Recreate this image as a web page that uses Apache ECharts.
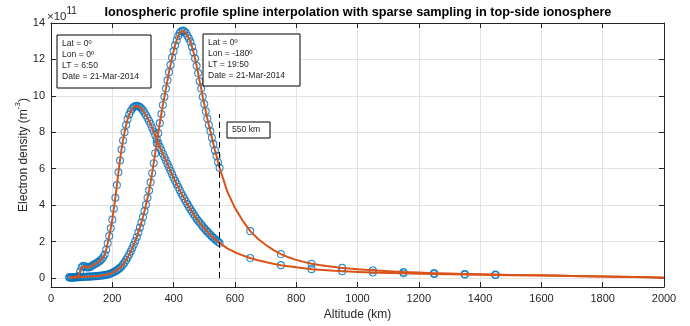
<!DOCTYPE html>
<html><head><meta charset="utf-8">
<script src="https://cdn.jsdelivr.net/npm/echarts@6/dist/echarts.min.js"></script>
<style>html,body{margin:0;padding:0;background:#fff}#c{width:690px;height:326px}</style>
</head><body><div id="c"></div>
<script>
// ---- data (electron density in units of 1e11 m^-3) ----
const titleText = 'Ionospheric profile spline interpolation with sparse sampling in top-side ionosphere';
const denseStart = 60, denseStep = 5;   // dense sampling 60..550 km every 5 km
const neA = [ // Lat 0, Lon 0, LT 6:50
  0.03,0.03,0.03,0.03,0.04,0.05,0.12,0.35,0.58,
  0.66,0.64,0.59,0.57,0.59,0.63,0.68,0.73,0.78,0.83,
  0.88,0.94,1.02,1.12,1.28,1.55,1.9,2.3,2.72,3.2,
  3.8,4.4,5.1,5.8,6.45,7.05,7.55,8.0,8.4,8.72,
  8.97,9.15,9.29,9.38,9.44,9.45,9.43,9.38,9.3,9.2,
  9.07,8.93,8.78,8.62,8.45,8.25,8.05,7.84,7.62,7.4,
  7.2,7.01,6.82,6.63,6.45,6.26,6.07,5.88,5.69,5.5,
  5.33,5.16,4.99,4.82,4.65,4.5,4.35,4.2,4.05,3.9,
  3.77,3.64,3.51,3.38,3.25,3.14,3.04,2.93,2.82,2.72,
  2.63,2.54,2.45,2.36,2.28,2.2,2.12,2.05,1.98,1.91
];
const neB = [ // Lat 0, Lon -180, LT 19:50
  0.02,0.02,0.02,0.02,0.03,0.03,0.04,0.04,0.05,
  0.05,0.06,0.06,0.07,0.07,0.08,0.08,0.09,0.09,0.1,
  0.11,0.12,0.13,0.14,0.15,0.17,0.19,0.21,0.24,0.28,
  0.32,0.37,0.42,0.48,0.55,0.63,0.73,0.85,0.98,1.12,
  1.28,1.45,1.63,1.82,2.03,2.25,2.5,2.76,3.04,3.34,
  3.67,4.02,4.4,4.8,5.25,5.75,6.3,6.85,7.4,7.95,
  8.5,9.0,9.5,9.95,10.4,10.85,11.3,11.7,12.1,12.45,
  12.78,13.05,13.28,13.45,13.55,13.58,13.55,13.45,13.3,13.15,
  12.95,12.7,12.4,12.05,11.65,11.25,10.8,10.4,9.95,9.55,
  9.15,8.75,8.4,8.05,7.7,7.35,7.0,6.7,6.35,6.05
];
// sparse top-side samples (circles)
const sparseAlt = [650,750,850,950,1050,1150,1250,1350,1450];
const sparseA = [1.09,0.7,0.48,0.37,0.3,0.25,0.21,0.18,0.16];
const sparseB = [2.57,1.31,0.78,0.55,0.42,0.32,0.26,0.21,0.18];
// spline curve above 550 km
const curveAlt = [575,600,625,650,675,700,725,750,775,800,825,850,875,900,925,950,975,1000,
  1050,1100,1150,1200,1250,1300,1350,1400,1450,1500,1550,1600,1650,1700,1750,1800,1850,1900,1950,2000];
const curveA = [1.62,1.41,1.24,1.09,0.97,0.87,0.78,0.7,0.64,0.58,0.53,0.48,0.45,0.42,0.39,0.37,0.35,0.33,
  0.3,0.27,0.25,0.23,0.21,0.195,0.18,0.17,0.16,0.15,0.14,0.13,0.12,0.105,0.09,0.075,0.06,0.045,0.03,0.01];
const curveB = [4.75,3.85,3.15,2.57,2.15,1.82,1.54,1.31,1.13,0.99,0.88,0.78,0.71,0.65,0.6,0.55,0.51,0.48,
  0.42,0.37,0.32,0.29,0.26,0.235,0.21,0.195,0.18,0.165,0.15,0.14,0.125,0.11,0.095,0.08,0.065,0.05,0.03,0.01];
const yTicks = [0,2,4,6,8,10,12,14];
const cutAlt = 550, cutTop = 9;
const boxA = ['Lat = 0º','Lon = 0º','LT = 6:50','Date = 21-Mar-2014'];
const boxB = ['Lat = 0º','Lon = -180º','LT = 19:50','Date = 21-Mar-2014'];
const cutLabel = '550 km';

// ---- build ----
const dense = arr => arr.map((v,i)=>[denseStart + i*denseStep, v]);
const pairs = (xs, ys) => xs.map((x,i)=>[x, ys[i]]);
const lineA = dense(neA).concat(pairs(curveAlt,curveA));
const lineB = dense(neB).concat(pairs(curveAlt,curveB));

const AX = '#262626', GRID = '#e3e3e3', BLUE = '#0072BD', ORANGE = '#D95319';
const FONT = 'Liberation Sans, Arial, sans-serif';

const markerStyle = {color:'transparent', borderColor: BLUE, borderWidth: 1.1};
function scatter(data){
  return {type:'scatter', data, symbol:'circle', symbolSize:7, itemStyle: markerStyle, z:2, silent:true, animation:false};
}
function line(data, extra){
  return Object.assign({type:'line', data, showSymbol:false, smooth:false,
    lineStyle:{color:ORANGE, width:2, join:'round'}, itemStyle:{color:ORANGE}, z:3, silent:true, animation:false}, extra||{});
}

const chart = echarts.init(document.getElementById('c'), null, {renderer:'canvas'});
function textBox(x, y, w, h, lines){
  return {type:'group', x, y, z:100, children:[
    {type:'rect', z:100, shape:{x:0,y:0,width:w,height:h}, style:{fill:'#fff', stroke:'#000', lineWidth:1}},
    {type:'text', z:101, x:5, y:3, style:{text: lines.join('\n'), font:'8.6px '+FONT, fill:AX, lineHeight:11}}
  ]};
}
chart.setOption({
  animation:false,
  backgroundColor:'#fff',
  grid:{left:51, right:26, top:23, bottom:38},
  xAxis:[{
    type:'value', min:0, max:2000, interval:200, position:'bottom',
    axisLine:{show:true, onZero:false, lineStyle:{color:AX, width:1}},
    axisTick:{show:true, inside:true, length:5, lineStyle:{color:AX}},
    axisLabel:{color:AX, fontSize:11, fontFamily:FONT, margin:6, formatter: v => String(v)},
    splitLine:{show:true, lineStyle:{color:GRID, width:1}},
    name:'Altitude (km)', nameLocation:'middle', nameGap:22, nameMoveOverlap:false,
    nameTextStyle:{color:AX, fontSize:12, fontFamily:FONT}
  },{
    type:'value', min:0, max:2000, interval:200, position:'top',
    axisLine:{show:true, onZero:false, lineStyle:{color:AX, width:1}},
    axisTick:{show:true, inside:true, length:5, lineStyle:{color:AX}},
    axisLabel:{show:false}, splitLine:{show:false}
  }],
  yAxis:[{
    type:'value', min:-0.5, max:14, position:'left',
    axisLine:{show:true, onZero:false, lineStyle:{color:AX, width:1}},
    axisTick:{show:true, inside:true, length:5, lineStyle:{color:AX}, customValues: yTicks},
    axisLabel:{color:AX, fontSize:11, fontFamily:FONT, margin:6, customValues: yTicks},
    splitLine:{show:true, lineStyle:{color:GRID, width:1}},
    name:'{a|Electron density (m}{s|-3}{a|)}', nameLocation:'middle', nameGap:21, nameMoveOverlap:false,
    nameTextStyle:{color:AX, fontFamily:FONT, rich:{
      a:{fontSize:12, fontFamily:FONT, color:AX, lineHeight:16, verticalAlign:'bottom'},
      s:{fontSize:8, fontFamily:FONT, color:AX, lineHeight:16, verticalAlign:'top'}}}
  },{
    type:'value', min:-0.5, max:14, position:'right',
    axisLine:{show:true, onZero:false, lineStyle:{color:AX, width:1}},
    axisTick:{show:true, inside:true, length:5, lineStyle:{color:AX}, customValues: yTicks},
    axisLabel:{show:false, customValues: yTicks}, splitLine:{show:false}
  }],
  series:[
    scatter(dense(neA)), scatter(dense(neB)),
    scatter(pairs(sparseAlt,sparseA)), scatter(pairs(sparseAlt,sparseB)),
    line(lineA, {markLine:{silent:true, symbol:['none','none'], label:{show:false},
      lineStyle:{color:'#000', width:1, type:[6,4]}, animation:false,
      data:[[{coord:[cutAlt,0]},{coord:[cutAlt,cutTop]}]]}}),
    line(lineB)
  ],
  graphic:[
    {type:'text', z:100, x:358, y:6, style:{text:titleText, font:'bold 12.7px '+FONT, fill:'#000', textAlign:'center'}},
    {type:'text', z:100, x:47, y:6, style:{text:'{a|×10}{s|11}', rich:{
      a:{fontSize:11.5, fontFamily:FONT, fill:AX, color:AX, lineHeight:17, verticalAlign:'bottom'},
      s:{fontSize:10, fontFamily:FONT, fill:AX, color:AX, lineHeight:17, verticalAlign:'top'}}}},
    textBox(57, 35, 94, 53, boxA),
    textBox(203, 34, 97, 52, boxB),
    {type:'group', x:227, y:122, z:100, children:[
      {type:'rect', z:100, shape:{x:0,y:0,width:43,height:16}, style:{fill:'#fff', stroke:'#000', lineWidth:1}},
      {type:'text', z:101, x:5, y:3.5, style:{text:cutLabel, font:'8.6px '+FONT, fill:AX}}
    ]}
  ]
});
</script>
</body></html>
